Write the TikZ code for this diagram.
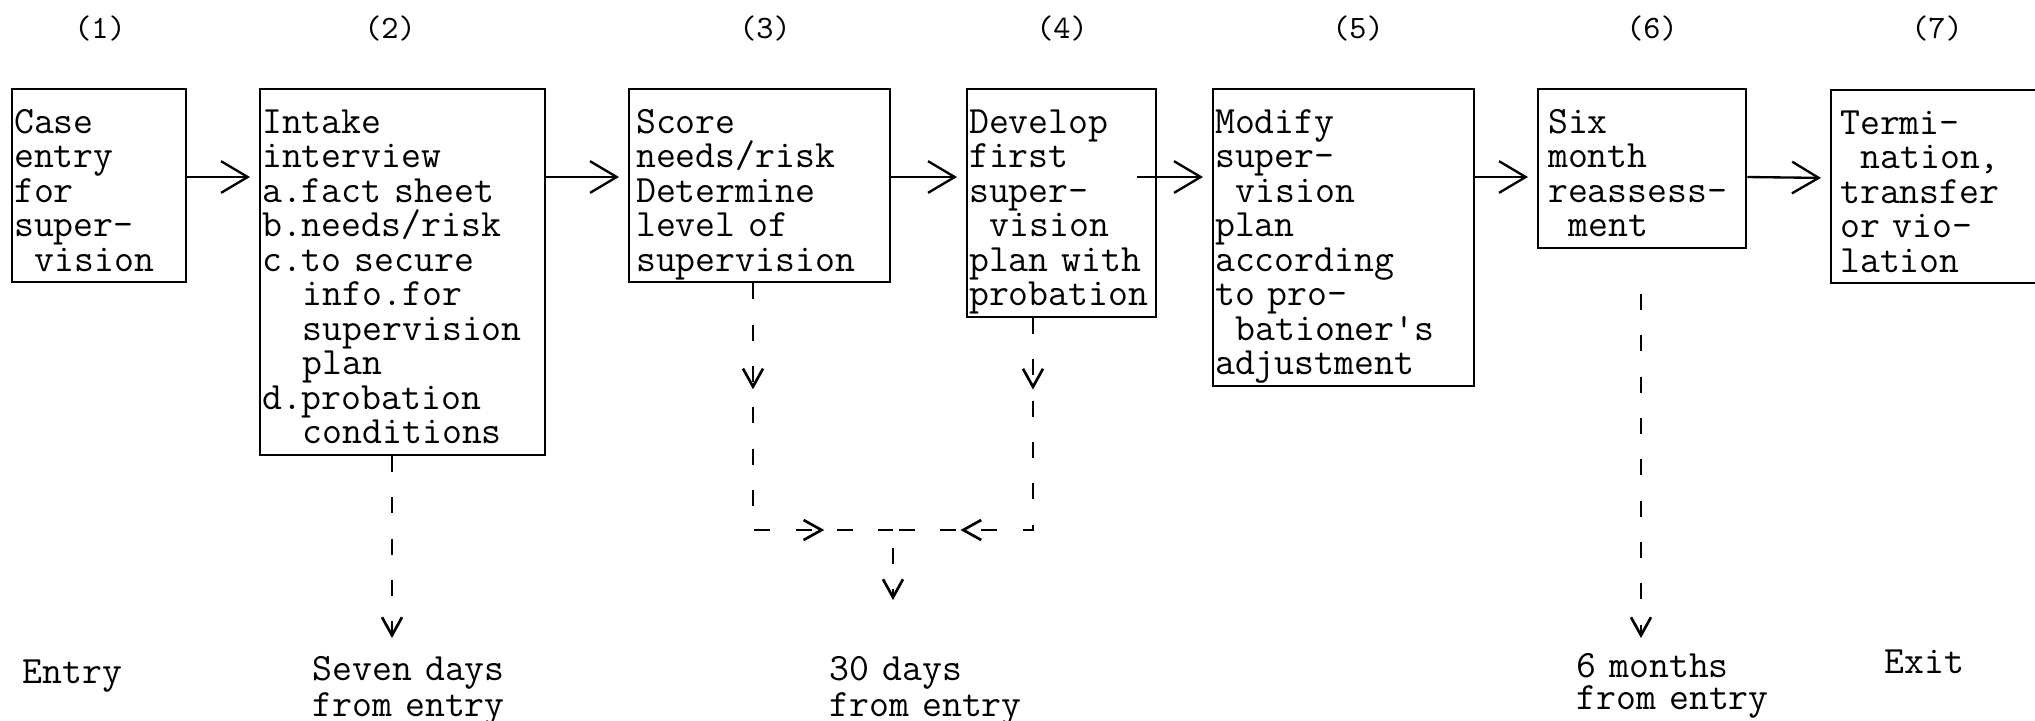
\documentclass[tikz,border=0pt]{standalone}
\usepackage{tikz}
\usetikzlibrary{arrows.meta}
\usetikzlibrary{decorations.markings}

\newcommand{\boxfont}{\fontsize{11.6}{10.35}\selectfont\ttfamily}
\newcommand{\skipch}{\hspace*{0.525em}}

\tikzset{
  stage/.style={draw, line width=0.7pt, anchor=north west, inner xsep=0.6pt, inner ysep=0pt,
    text height=13.2pt, align=left, font=\boxfont},
  numlabel/.style={font=\fontsize{9.8}{10}\selectfont\ttfamily},
  when/.style={anchor=base west, inner sep=0pt, align=left, text width=70pt,
    font=\fontsize{11.6}{9.6}\selectfont\ttfamily},
  flow/.style={line width=0.7pt, -{Straight Barb[length=8pt,width=9.5pt]}, shorten >=2.7pt},
  dashline/.style={line width=0.8pt, dash pattern=on 4.8pt off 7.6pt},
  drop/.style={dashline, -{Straight Barb[length=5.4pt,width=6pt]}},
  midtip/.style={postaction={decorate, decoration={markings,
    mark=at position #1 with {\arrow{Straight Barb[length=5.4pt,width=6pt]}}}}}
}

\begin{document}
\begin{tikzpicture}[x=0.3pt,y=-0.3pt]
 \useasboundingbox (0,0) rectangle (2035,720);

 % step numbers
 \node[numlabel] (n1) at (100,28) {(1)};
 \node[numlabel] (n2) at (390,28) {(2)};
 \node[numlabel] (n3) at (765,28) {(3)};
 \node[numlabel] (n4) at (1062,28) {(4)};
 \node[numlabel] (n5) at (1358,28) {(5)};
 \node[numlabel] (n6) at (1652,28) {(6)};
 \node[numlabel] (n7) at (1937,28) {(7)};

 % stages
 \node[stage, text width=51pt, text depth=44.7pt] (s1) at (11,88)
   {Case\\entry\\for\\super-\\\skipch vision};
 \node[stage, text width=84.3pt, text depth=96.45pt] (s2) at (259,88)
   {Intake\\interview\\a.fact sheet\\b.needs/risk\\c.to secure\\\skipch\skipch info.for\\\skipch\skipch supervision\\\skipch\skipch plan\\d.probation\\\skipch\skipch conditions};
 \node[stage, inner xsep=2.1pt, text width=74.1pt, text depth=44.7pt] (s3) at (628,88)
   {Score\\needs/risk\\Determine\\level of\\supervision};
 \node[stage, text width=55.5pt, text depth=55.05pt] (s4) at (966,88)
   {Develop\\first\\super-\\\skipch vision\\plan with\\probation};
 \node[stage, text width=77.1pt, text depth=75.75pt] (s5) at (1212,88)
   {Modify\\super-\\\skipch vision\\plan\\according\\to pro-\\\skipch bationer\textquotesingle s\\adjustment};
 \node[stage, inner xsep=3pt, text width=56.4pt, text depth=34.35pt] (s6) at (1537,88)
   {Six\\month\\reassess-\\\skipch ment};
 \node[stage, inner xsep=2.7pt, text width=59.1pt, text depth=44.7pt] (s7) at (1830,89)
   {Termi-\\\skipch nation,\\transfer\\or vio-\\lation};

 \draw[flow] ([yshift=-26.7pt]s1.north east) -- ([yshift=-26.7pt]s2.north west);
 \draw[flow] ([yshift=-26.7pt]s2.north east) -- ([yshift=-26.7pt]s3.north west);
 \draw[flow] ([yshift=-26.7pt]s3.north east) -- ([yshift=-26.7pt]s4.north west);
 \draw[flow] ([xshift=-6pt,yshift=-26.7pt]s4.north east) -- ([yshift=-26.7pt]s5.north west);
 \draw[flow] ([yshift=-26.7pt]s5.north east) -- ([yshift=-26.7pt]s6.north west);
 \draw[flow] ([yshift=-26.7pt]s6.north east) -- ([yshift=-26.7pt]s7.north west);

 % time marks
 \node[when] (t1) at (22,683) {Entry};
 \node[when] (t2) at (312,680) {Seven days\\from entry};
 \node[when] (t3) at (829,680) {30 days\\from entry};
 \node[when] (t6) at (1576,677) {6 months\\from entry};
 \node[when] (t7) at (1884,673) {Exit};

 \coordinate (e2) at (392,638);
 \coordinate (j3) at (753,530);
 \coordinate (j4) at (1033,530);
 \coordinate (jm) at (893,530);
 \coordinate (e3) at (893,600);
 \coordinate (e6) at (1641,638);

 \draw[drop] (s2.south -| e2) -- (e2);
 \draw[dashline, midtip=31.8pt, midtip=95.4pt] (s3.south -| j3) -- (j3) -- (jm);
 \draw[dashline, midtip=21.5pt, midtip=85.4pt] (s4.south -| j4) -- (j4) -- (jm);
 \draw[drop, shorten <=5.4pt] (jm) -- (e3);
 \draw[drop, shorten <=13.5pt] (s6.south -| e6) -- (e6);

\end{tikzpicture}
\end{document}
